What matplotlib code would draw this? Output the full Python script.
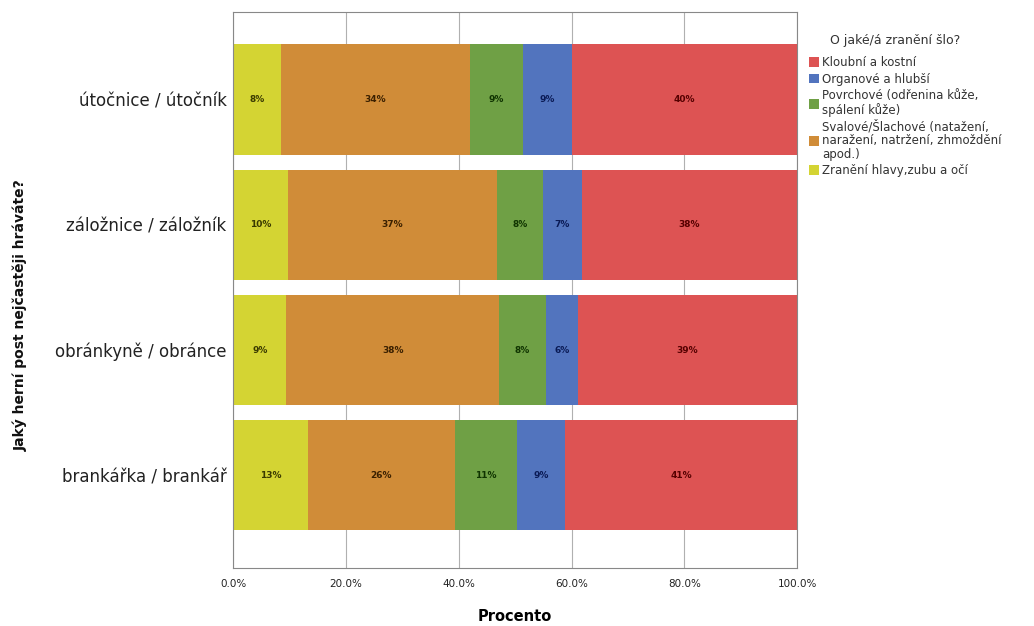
import numpy as np
import matplotlib.pyplot as plt

posts = ["útočnice / útočník", "záložnice / záložník", "obránkyně / obránce", "brankářka / brankář"]

# stacked left to right
injury_types = [
    "Zranění hlavy,zubu a očí",
    "Svalové/Šlachové (natažení,\nnaražení, natržení, zhmoždění\napod.)",
    "Povrchové (odřenina kůže,\nspálení kůže)",
    "Organové a hlubší",
    "Kloubní a kostní",
]
head = [8.4, 9.7, 9.4, 13.2]
muscle = [33.6, 37.0, 37.7, 26.1]
surface = [9.3, 8.2, 8.3, 11.0]
organ = [8.7, 6.9, 5.7, 8.6]
joint = [40.0, 38.2, 38.9, 41.1]

colors = ["#D4D433", "#D08C38", "#6FA045", "#5274BE", "#DD5353"]
label_colors = ["#3a3a00", "#3a2000", "#0f3300", "#0a1a55", "#550000"]

fig = plt.figure(figsize=(10.34, 6.26), dpi=100)
ax = fig.add_axes([0.2258, 0.0927, 0.5450, 0.8883])

y = np.arange(len(posts))
left = np.zeros(len(posts))
bars = []
for vals, c, lc in zip([head, muscle, surface, organ, joint], colors, label_colors):
    vals = np.array(vals)
    b = ax.barh(y, vals, left=left, height=0.88, color=c, edgecolor="none", zorder=2)
    bars.append(b)
    for yi, l, v in zip(y, left, vals):
        ax.text(l + v / 2, yi, f"{v:.0f}%", ha="center", va="center",
                fontsize=6.5, fontweight="bold", color=lc, zorder=3)
    left += vals

ax.set_xlim(0, 100)
ax.set_ylim(3.74, -0.7)
ax.set_xticks(np.arange(0, 101, 20))
ax.set_xticklabels([f"{t:.1f}%" for t in np.arange(0, 101, 20)], fontsize=7.5, color="#222222")
ax.set_yticks(y)
ax.set_yticklabels(posts, fontsize=12, color="#222222")
ax.tick_params(axis="both", length=0)
ax.tick_params(axis="x", pad=8)
ax.tick_params(axis="y", pad=5)
ax.grid(axis="x", color="#b0b0b0", linewidth=0.8, zorder=0)
for s in ax.spines.values():
    s.set_color("#888888")
    s.set_linewidth(0.8)

ax.set_xlabel("Procento", fontsize=10.5, fontweight="bold", labelpad=14)
fig.text(0.013, 0.497, "Jaký herní post nejčastěji hráváte?", rotation=90, ha="left", va="center",
         fontsize=10, fontweight="bold", color="#111111")

# legend: title drawn separately to get the wider gap of the original
fig.text(0.866, 0.936, "O jaké/á zranění šlo?", ha="center", va="center",
         fontsize=9, color="#333333")
handles = [bars[4], bars[3], bars[2], bars[1], bars[0]]
labels = [injury_types[4], injury_types[3], injury_types[2], injury_types[1], injury_types[0]]
leg = fig.legend(handles, labels, loc="upper left", bbox_to_anchor=(0.778, 0.918),
                 frameon=False, fontsize=8.5, handlelength=0.8, handleheight=0.9,
                 handletextpad=0.3, labelspacing=0.3, borderaxespad=0)
for t in leg.get_texts():
    t.set_color("#333333")
    t.set_linespacing(1.05)

fig.savefig("out.png", dpi=100)
